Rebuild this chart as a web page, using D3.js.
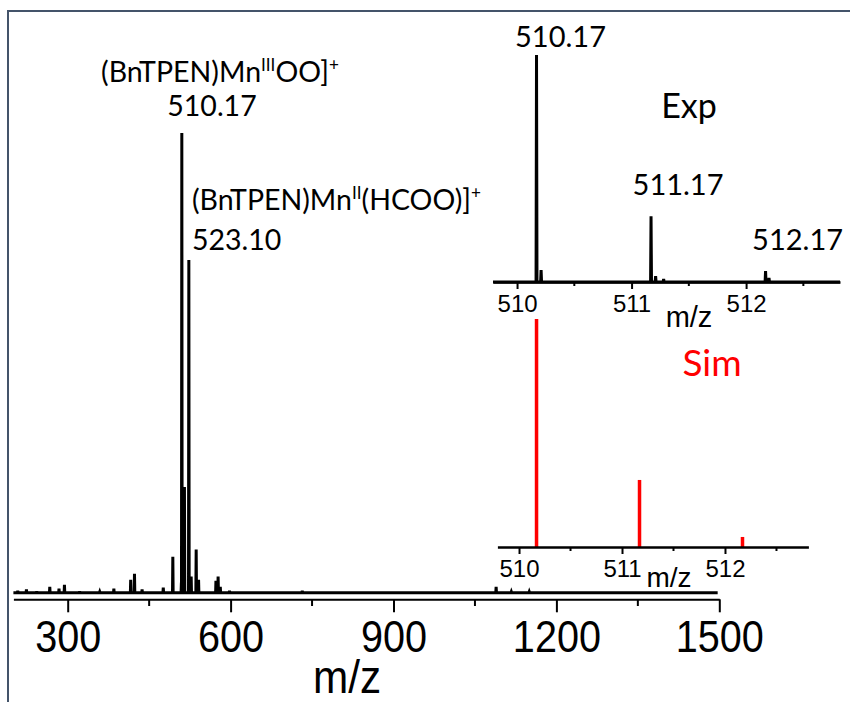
<!DOCTYPE html>
<html><head><meta charset="utf-8">
<script src="https://cdn.jsdelivr.net/npm/d3@7"></script>
<style>
body{margin:0;background:#fff;}
svg{display:block;}
</style></head>
<body>
<svg id="chart" width="850" height="702"></svg>
<script>
// ---- data ----
const mainMz  = [208, 224, 243, 267, 284, 294, 322, 359, 385, 416, 423, 437, 476, 493.6, 509.4, 510.17, 515, 523.10, 527.4, 536.6, 541, 573, 577, 581, 598, 732, 1089, 1117, 1150];
const mainInt = [0.4, 0.7, 0.3, 1.3, 0.9, 1.7, 0.3, 0.2, 0.9, 2.8, 4.1, 0.7, 1.1, 7.8, 2.2, 100, 23, 72.4, 3.5, 9.4, 2.8, 2.6, 3.5, 1.3, 0.4, 0.4, 1.3, 0.2, 0.2];
const mainMajorTicks = [300, 600, 900, 1200, 1500];
const mainMinorTicks = [450, 750, 1050, 1350];

const expMz  = [510.17, 510.21, 511.17, 511.21, 511.28, 512.17, 512.20];
const expInt = [100, 5.3, 29, 2.6, 1.3, 4.8, 1.8];
const simMz  = [510.17, 511.17, 512.17];
const simInt = [100, 29.4, 4.4];
const insetMajorTicks = [510, 511, 512];
const insetMinorTicks = [510.5, 511.5, 512.5];

const expLabels = [{t:"510.17", mz:510.17, v:100}, {t:"511.17", mz:511.17, v:29}, {t:"512.17", mz:512.17, v:4.8}];

const svg = d3.select("#chart");
const SANS = "Lato, 'Open Sans', sans-serif";
const ARIAL = "'Liberation Sans', Arial, sans-serif";

// frame
svg.append("path").attr("d","M8,702V11H850").attr("fill","none").attr("stroke","#44546a").attr("stroke-width",2);

// ---- main chart ----
const x = d3.scaleLinear().domain([200,1500]).range([13.4,719.3]);
const y = d3.scaleLinear().domain([0,100]).range([592.7,133]);

function spikes(mz, inten, lo, hi, hw){
  const pts = [[lo,0]];
  const idx = d3.range(mz.length).sort((a,b)=>mz[a]-mz[b]);
  idx.forEach(i=>{ pts.push([mz[i]-hw,0],[mz[i],inten[i]],[mz[i]+hw,0]); });
  pts.push([hi,0]);
  return pts;
}
const line = (xs,ys)=>d3.line().x(d=>xs(d[0])).y(d=>ys(d[1]));

svg.append("path")
  .datum(spikes(mainMz, mainInt, 200, 1497, 0.6))
  .attr("d", line(x,y)).attr("fill","none").attr("stroke","#000").attr("stroke-width",3).attr("stroke-linejoin","miter");

const axMain = svg.append("g").attr("transform","translate(0,599.3)")
  .call(d3.axisBottom(x).tickValues(mainMajorTicks).tickSize(13).tickSizeOuter(0).tickFormat(d3.format("d")));
axMain.select(".domain").attr("stroke-width",2);
axMain.selectAll(".tick line").attr("stroke-width",2);
axMain.selectAll(".tick text").attr("y",52.7).attr("dy",0).attr("x",0).attr("font-size",44).attr("font-family",ARIAL)
  .attr("transform","scale(0.9,1)").attr("fill","#000");
svg.append("g").selectAll("line").data(mainMinorTicks).join("line")
  .attr("x1",d=>x(d)).attr("x2",d=>x(d)).attr("y1",599.3).attr("y2",606).attr("stroke","#000").attr("stroke-width",2);
svg.append("text").attr("x",347).attr("y",693).attr("text-anchor","middle").attr("font-family",ARIAL).attr("font-size",46)
  .attr("transform","translate(347,0) scale(0.92,1) translate(-347,0)").text("m/z");

// main annotations: parts = [text, isSuperscript]
function label(xc, yb, parts, size, anchor){
  const t = svg.append("text").attr("x",xc).attr("y",yb).attr("text-anchor",anchor||"middle")
    .attr("font-family",SANS).attr("font-size",size).attr("fill","#000");
  let raised = false;
  parts.forEach(p=>{
    const sp = t.append("tspan").text(p[0]);
    if(p[1]){ sp.attr("font-size",size*0.6); if(!raised){ sp.attr("dy",-size*0.4); raised=true; } }
    else if(raised){ sp.attr("dy",size*0.4); raised=false; }
  });
  return t;
}
label(220, 82, [["(BnTPEN)Mn",0],["III",1],["OO]",0],["+",1]], 28.5);
label(212, 116, [["510.17",0]], 28.5);
label(192, 210, [["(BnTPEN)Mn",0],["II",1],["(HCOO)]",0],["+",1]], 28.5, "start");
label(192, 250, [["523.10",0]], 28.5, "start");

// ---- inset Exp ----
const xe = d3.scaleLinear().domain([509.79,512.82]).range([493,840]);
const ye = d3.scaleLinear().domain([0,100]).range([282,55]);
svg.append("path").datum(spikes(expMz, expInt, 509.79, 512.82, 0.004))
  .attr("d", line(xe,ye)).attr("fill","none").attr("stroke","#000").attr("stroke-width",3);
function insetAxis(xs, yPos){
  const g = svg.append("g").attr("transform",`translate(0,${yPos})`)
    .call(d3.axisBottom(xs).tickValues(insetMajorTicks).tickSize(7).tickSizeOuter(0).tickFormat(d3.format("d")));
  g.select(".domain").attr("stroke-width",2.5);
  g.selectAll(".tick line").attr("stroke-width",2);
  g.selectAll(".tick text").attr("y",30).attr("dy",0).attr("font-size",24).attr("font-family",ARIAL).attr("fill","#000");
  svg.append("g").selectAll("line").data(insetMinorTicks).join("line")
    .attr("x1",d=>xs(d)).attr("x2",d=>xs(d)).attr("y1",yPos).attr("y2",yPos+4).attr("stroke","#000").attr("stroke-width",2);
}
insetAxis(xe, 282);
svg.append("text").attr("x",689).attr("y",327).attr("text-anchor","middle").attr("font-family",ARIAL).attr("font-size",29).text("m/z");
const labelOffsets = [24, 27, 32];
svg.append("g").selectAll("text").data(expLabels).join("text")
  .attr("x",(d,i)=> xe(d.mz)+labelOffsets[i])
  .attr("y",d=>ye(d.v)-8 - (d.v>50?0:13))
  .attr("text-anchor","middle").attr("font-family",SANS).attr("font-size",29).text(d=>d.t);
svg.append("text").attr("x",689).attr("y",118).attr("text-anchor","middle").attr("font-family",SANS).attr("font-size",34).text("Exp");

// ---- inset Sim ----
const xs2 = d3.scaleLinear().domain([509.79,512.81]).range([497.4,808.4]);
const ys2 = d3.scaleLinear().domain([0,100]).range([547,319]);
svg.append("g").selectAll("line").data(simMz).join("line")
  .attr("x1",d=>xs2(d)).attr("x2",d=>xs2(d)).attr("y1",ys2(0)).attr("y2",(d,i)=>ys2(simInt[i]))
  .attr("stroke","#ff0000").attr("stroke-width",3.5);
insetAxis(xs2, 547);
svg.append("text").attr("x",669).attr("y",587).attr("text-anchor","middle").attr("font-family",ARIAL).attr("font-size",28).text("m/z");
svg.append("text").attr("x",712).attr("y",376).attr("text-anchor","middle").attr("font-family",SANS).attr("font-size",37).attr("fill","#ff0000").text("Sim");
</script>
</body></html>
